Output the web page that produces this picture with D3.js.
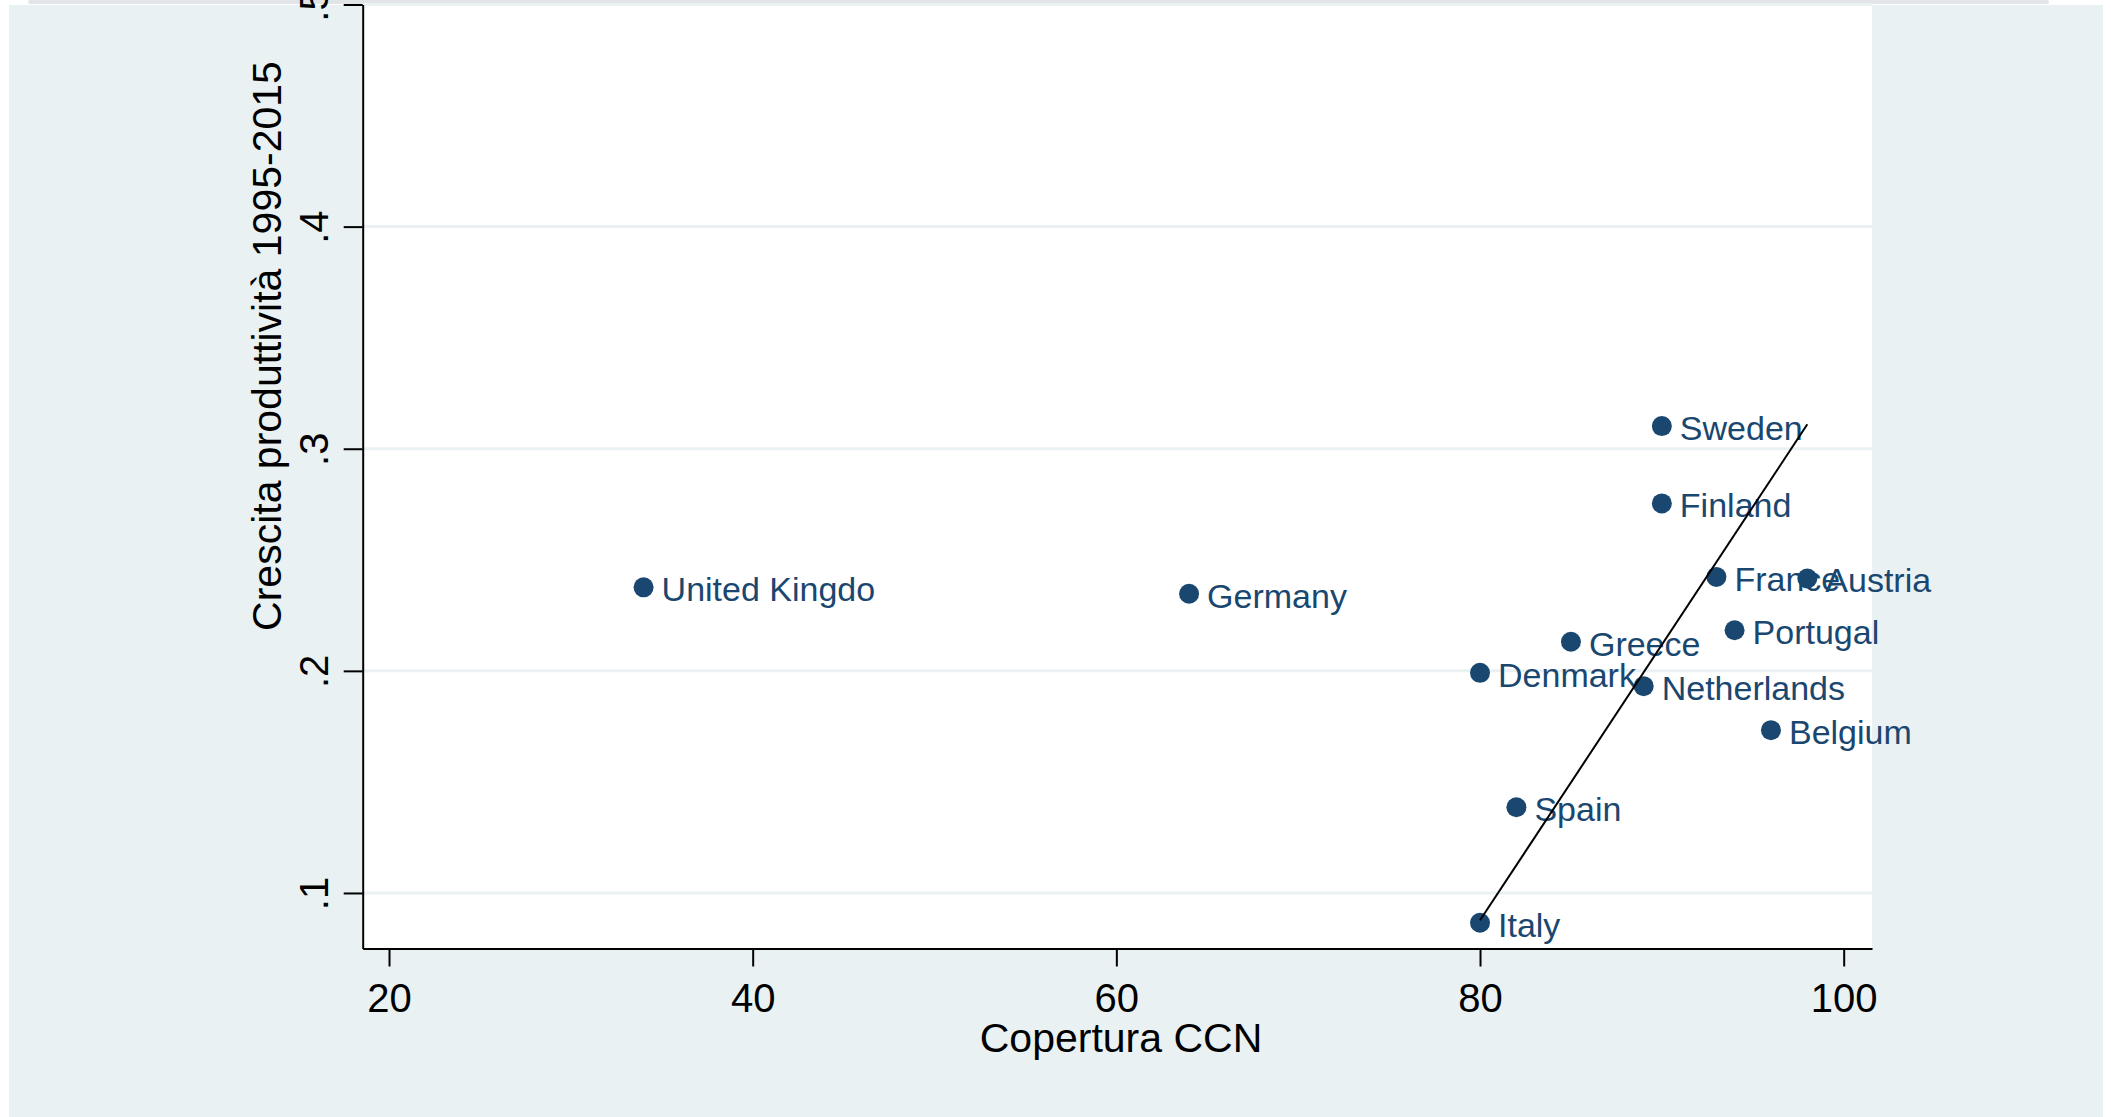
<!DOCTYPE html>
<html>
<head>
<meta charset="utf-8">
<script src="https://cdnjs.cloudflare.com/ajax/libs/d3/7.8.5/d3.min.js"></script>
<style>
  body { margin: 0; background: #fff; }
  svg { display: block; }
</style>
</head>
<body>
<div id="chart"></div>
<script>
// values
const countries = ['United Kingdo', 'Germany', 'Sweden', 'Finland', 'France', 'Austria', 'Portugal', 'Greece', 'Denmark', 'Netherlands', 'Belgium', 'Spain', 'Italy']
const coverage = [34, 64, 90, 90, 93, 98, 94, 85, 80, 89, 96, 82, 80]
const growth = [0.2376, 0.2347, 0.3102, 0.2754, 0.2423, 0.2416, 0.2183, 0.2131, 0.1991, 0.1931, 0.1733, 0.1386, 0.0866]

const trendX = [80, 98]
const trendY = [0.0877, 0.311]

const xTicks = [20, 40, 60, 80, 100]
const yTicks = [0.1, 0.2, 0.3, 0.4, 0.5]
const yTickLabels = ['.1', '.2', '.3', '.4', '.5']

const navy = '#1a476f'
const bluish = '#eaf1f3'
const font = '"Liberation Sans", Arial, Helvetica, sans-serif'

const W = 2111
const H = 1117
const margin = { top: 4.5, left: 362.7 }
const width = 1509.3
const height = 944

const root = d3
  .select('#chart')
  .append('svg')
  .attr('width', W)
  .attr('height', H)

// graph region
root
  .append('rect')
  .attr('x', 28)
  .attr('y', 0)
  .attr('width', 2021)
  .attr('height', 4)
  .attr('rx', 2)
  .attr('fill', '#e1e5e7')
root
  .append('rect')
  .attr('x', 9)
  .attr('y', 5)
  .attr('width', 2094)
  .attr('height', 1112)
  .attr('fill', bluish)

const svg = root
  .append('g')
  .attr('transform', 'translate(' + margin.left + ',' + margin.top + ')')

svg
  .append('rect')
  .attr('width', width)
  .attr('height', height)
  .attr('fill', '#fff')

const x = d3
  .scaleLinear()
  .domain([18.553, 101.557])
  .range([0, width])

const y = d3
  .scaleLinear()
  .domain([0.075, 0.5])
  .range([height, 0])

// grid lines
svg
  .append('g')
  .selectAll('line')
  .data(yTicks)
  .join('line')
  .attr('x1', 0)
  .attr('x2', width)
  .attr('y1', d => y(d))
  .attr('y2', d => y(d))
  .attr('stroke', bluish)
  .attr('stroke-width', 3)

// x axis
svg
  .append('g')
  .attr('transform', `translate(0,${height})`)
  .call(
    d3
      .axisBottom(x)
      .tickValues(xTicks)
      .tickFormat(d3.format('d'))
      .tickSizeInner(18)
      .tickSizeOuter(0)
  )
  .call(g => g.select('.domain').attr('stroke', '#000').attr('stroke-width', 2))
  .call(g => g.selectAll('.tick line').attr('stroke', '#000').attr('stroke-width', 2))
  .call(g =>
    g
      .selectAll('.tick text')
      .attr('y', 63)
      .attr('dy', 0)
      .attr('fill', '#000')
      .style('font-family', font)
      .style('font-size', '40px')
  )

// y axis
svg
  .append('g')
  .call(
    d3
      .axisLeft(y)
      .tickValues(yTicks)
      .tickFormat((d, i) => yTickLabels[i])
      .tickSizeInner(19)
      .tickSizeOuter(0)
  )
  .call(g => g.select('.domain').attr('stroke', '#000').attr('stroke-width', 2))
  .call(g => g.selectAll('.tick line').attr('stroke', '#000').attr('stroke-width', 2))
  .call(g =>
    g
      .selectAll('.tick text')
      .attr('x', 0)
      .attr('dy', 0)
      .attr('text-anchor', 'middle')
      .attr('transform', 'translate(-35,0) rotate(-90)')
      .attr('fill', '#000')
      .style('font-family', font)
      .style('font-size', '40px')
  )

// axis titles
root
  .append('text')
  .attr('x', 1121)
  .attr('y', 1052)
  .attr('text-anchor', 'middle')
  .style('font-family', font)
  .style('font-size', '41px')
  .text('Copertura CCN')

root
  .append('text')
  .attr('transform', 'translate(281,346) rotate(-90)')
  .attr('text-anchor', 'middle')
  .style('font-family', font)
  .style('font-size', '41px')
  .text('Crescita produttività 1995-2015')

// points with labels
const pts = svg
  .append('g')
  .selectAll('g')
  .data(countries)
  .join('g')
  .attr('transform', (d, i) => `translate(${x(coverage[i])},${y(growth[i])})`)

pts
  .append('circle')
  .attr('r', 10)
  .attr('fill', navy)

pts
  .append('text')
  .attr('x', 18)
  .attr('y', 14)
  .attr('fill', navy)
  .style('font-family', font)
  .style('font-size', '34px')
  .text(d => d)

// drawn line
svg
  .append('line')
  .attr('x1', x(trendX[0]))
  .attr('y1', y(trendY[0]))
  .attr('x2', x(trendX[1]))
  .attr('y2', y(trendY[1]))
  .attr('stroke', '#000')
  .attr('stroke-width', 2)
</script>
</body>
</html>
